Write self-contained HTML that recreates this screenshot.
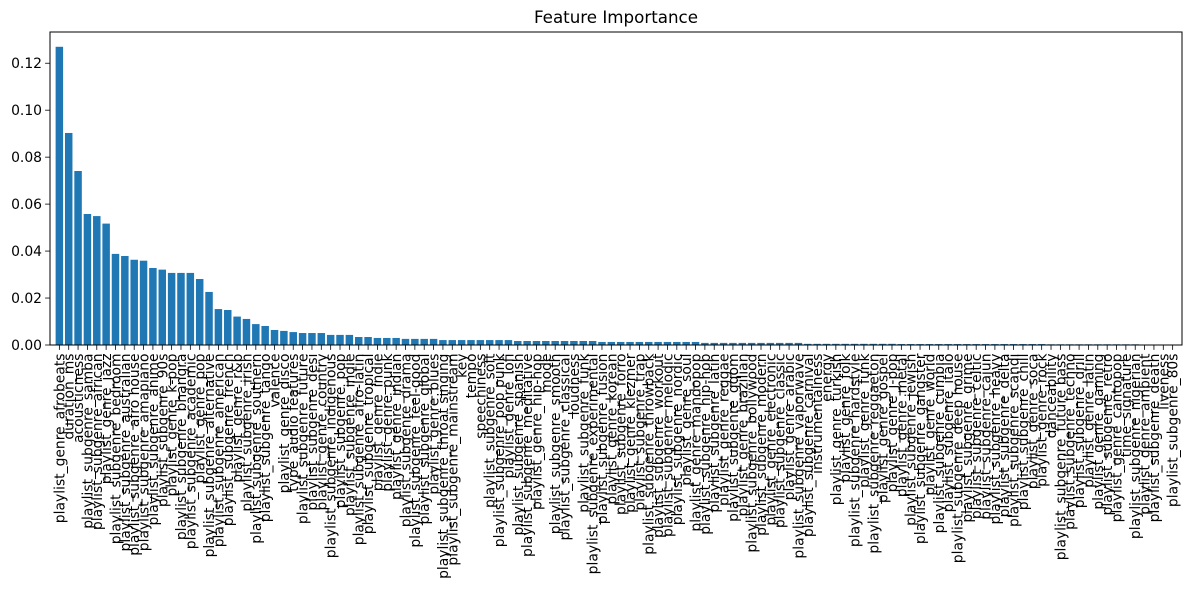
<!DOCTYPE html>
<html><head><meta charset="utf-8">
<style>
html,body{margin:0;padding:0;background:#fff;}
svg{display:block;font-family:"DejaVu Sans","Liberation Sans",sans-serif;}
</style></head>
<body>
<svg id="chart" width="1190" height="590" viewBox="0 0 1190 590" xmlns="http://www.w3.org/2000/svg">
<rect x="0" y="0" width="1190" height="590" fill="#fff"/>
<text x="616" y="23" font-size="16.7" text-anchor="middle" fill="#000">Feature Importance</text>
<g id="bars"></g>
<g id="yaxis"></g>
<g id="xaxis"></g>
<rect x="50" y="32" width="1132" height="313" fill="none" stroke="#000" stroke-width="1"/>
</svg>
<script>
const categories = ["playlist_genre_afrobeats","duration_ms","acousticness","playlist_subgenre_samba","playlist_subgenre_african","playlist_genre_jazz","playlist_subgenre_bedroom","playlist_subgenre_australian","playlist_subgenre_afro house","playlist_subgenre_amapiano","playlist_subgenre_anime","playlist_subgenre_90s","playlist_genre_k-pop","playlist_subgenre_bhangra","playlist_subgenre_academic","playlist_genre_pop","playlist_subgenre_alternative","playlist_subgenre_american","playlist_subgenre_french","playlist_genre_r&b","playlist_subgenre_irish","playlist_subgenre_southern","playlist_subgenre_tango","valence","playlist_genre_disco","type_audio features","playlist_subgenre_future","playlist_subgenre_desi","playlist_genre_country","playlist_subgenre_indigenous","playlist_subgenre_pop","playlist_subgenre_indie","playlist_subgenre_afro-latin","playlist_subgenre_tropical","playlist_genre_indie","playlist_genre_punk","playlist_genre_indian","playlist_subgenre_drama","playlist_subgenre_feel-good","playlist_subgenre_global","playlist_genre_blues","playlist_subgenre_throat singing","playlist_subgenre_mainstream","key","tempo","speechiness","playlist_subgenre_soft","playlist_subgenre_pop punk","playlist_genre_lofi","playlist_subgenre_spanish","playlist_subgenre_meditative","playlist_genre_hip-hop","mode","playlist_subgenre_smooth","playlist_subgenre_classical","loudness","playlist_subgenre_funk","playlist_subgenre_experimental","playlist_subgenre_fusion","playlist_genre_korean","playlist_subgenre_forro","playlist_genre_klezmer","playlist_subgenre_trap","playlist_subgenre_throwback","playlist_subgenre_workout","playlist_subgenre_melodic","playlist_subgenre_nordic","playlist_genre_soul","playlist_genre_mandopop","playlist_subgenre_hip-hop","playlist_subgenre_latin","playlist_genre_reggae","playlist_subgenre_gqom","playlist_genre_brazilian","playlist_subgenre_bollywood","playlist_subgenre_modern","playlist_genre_electronic","playlist_subgenre_classic","playlist_genre_arabic","playlist_subgenre_vaporwave","playlist_subgenre_carnival","instrumentalness","energy","playlist_genre_turkish","playlist_genre_folk","playlist_subgenre_hardstyle","playlist_genre_funk","playlist_subgenre_reggaeton","playlist_genre_gospel","playlist_genre_j-pop","playlist_genre_metal","playlist_subgenre_jewish","playlist_subgenre_gangster","playlist_genre_world","playlist_subgenre_cumbia","playlist_subgenre_italo","playlist_subgenre_deep house","playlist_subgenre_grime","playlist_subgenre_celtic","playlist_subgenre_cajun","playlist_subgenre_heavy","playlist_subgenre_delta","playlist_subgenre_scandi","playlist_subgenre_chill","playlist_genre_soca","playlist_genre_rock","danceability","playlist_subgenre_future bass","playlist_subgenre_techno","playlist_subgenre_drill","playlist_genre_latin","playlist_genre_gaming","playlist_subgenre_retro","playlist_genre_cantopop","time_signature","playlist_subgenre_nigerian","playlist_genre_ambient","playlist_subgenre_death","liveness","playlist_subgenre_80s"];
const importances = [0.127,0.0903,0.0741,0.0558,0.0549,0.0517,0.0388,0.0379,0.0363,0.0359,0.0328,0.0321,0.0307,0.0307,0.0307,0.0281,0.0226,0.0153,0.0149,0.0121,
0.0111,0.0089,0.0081,0.0064,0.0060,0.0055,0.0051,0.0051,0.0051,0.0043,0.0043,0.0043,0.0034,0.0034,0.0030,0.0030,0.0030,0.0026,0.0026,0.0026,
0.0026,0.0021,0.0021,0.0021,0.0021,0.0021,0.0021,0.0021,0.0021,0.0017,0.0017,0.0017,0.0017,0.0017,0.0017,0.0017,0.0017,0.0017,0.0013,0.0013,
0.0013,0.0013,0.0013,0.0013,0.0013,0.0013,0.0013,0.0013,0.0013,0.0009,0.0009,0.0009,0.0009,0.0009,0.0009,0.0009,0.0009,0.0009,0.0009,0.0009,
0.0005,0.0005,0.0005,0.0005,0.0005,0.0005,0.0005,0.0005,0.0005,0.0005,0.0004,0.0004,0.0004,0.0004,0.0004,0.0004,0.0004,0.0004,0.0004,0.0004,
0.0004,0.0004,0.0004,0.0004,0.0004,0.0004,0.0003,0.0003,0.0003,0.0003,0.0003,0.0003,0.0003,0.0003,0.0003,0.0003,0,0,0,0];
const yTicks = [0, 0.02, 0.04, 0.06, 0.08, 0.10, 0.12];
const yTickLabels = ["0.00","0.02","0.04","0.06","0.08","0.10","0.12"];

const NS = "http://www.w3.org/2000/svg";
const plotL = 50, plotR = 1182, plotT = 32, plotB = 345;
const xMin = -1, xMax = categories.length;
const yMin = 0, yMax = 0.1333;
function xScale(i){ return plotL + (i - xMin) / (xMax - xMin) * (plotR - plotL); }
function yScale(v){ return plotB - (v - yMin) / (yMax - yMin) * (plotB - plotT); }
const step = xScale(1) - xScale(0);
const barW = step * 0.8;

const barsG = document.getElementById('bars');
const xG = document.getElementById('xaxis');
const yG = document.getElementById('yaxis');

categories.forEach((c, i) => {
  const v = importances[i];
  const cx = xScale(i);
  const r = document.createElementNS(NS, 'rect');
  
  
  r.setAttribute('x', cx - barW / 2);
  r.setAttribute('y', yScale(v));
  r.setAttribute('width', barW);
  r.setAttribute('height', Math.max(0, yScale(0) - yScale(v)));
  r.setAttribute('fill', '#1f77b4');
  barsG.appendChild(r);

  const t = document.createElementNS(NS, 'line');
  
  
  t.setAttribute('x1', cx); t.setAttribute('x2', cx);
  t.setAttribute('y1', plotB); t.setAttribute('y2', plotB + 4.9);
  t.setAttribute('stroke', '#000'); t.setAttribute('stroke-width', '0.8');
  xG.appendChild(t);

  const lb = document.createElementNS(NS, 'text');
  
  
  lb.setAttribute('transform', 'translate(' + (cx + 5) + ',' + (plotB + 8.5) + ') rotate(-90)');
  lb.setAttribute('text-anchor', 'end');
  lb.setAttribute('font-size', '13.9');
  lb.setAttribute('fill', '#000');
  lb.textContent = c;
  xG.appendChild(lb);
});

yTicks.forEach((v, k) => {
  const y = yScale(v);
  const t = document.createElementNS(NS, 'line');
  
  
  t.setAttribute('x1', plotL - 4.9); t.setAttribute('x2', plotL);
  t.setAttribute('y1', y); t.setAttribute('y2', y);
  t.setAttribute('stroke', '#000'); t.setAttribute('stroke-width', '0.8');
  yG.appendChild(t);
  const lb = document.createElementNS(NS, 'text');
  
  
  lb.setAttribute('x', plotL - 8);
  lb.setAttribute('y', y + 5);
  lb.setAttribute('text-anchor', 'end');
  lb.setAttribute('font-size', '13.9');
  lb.setAttribute('fill', '#000');
  lb.textContent = yTickLabels[k];
  yG.appendChild(lb);
});
</script>
</body></html>
